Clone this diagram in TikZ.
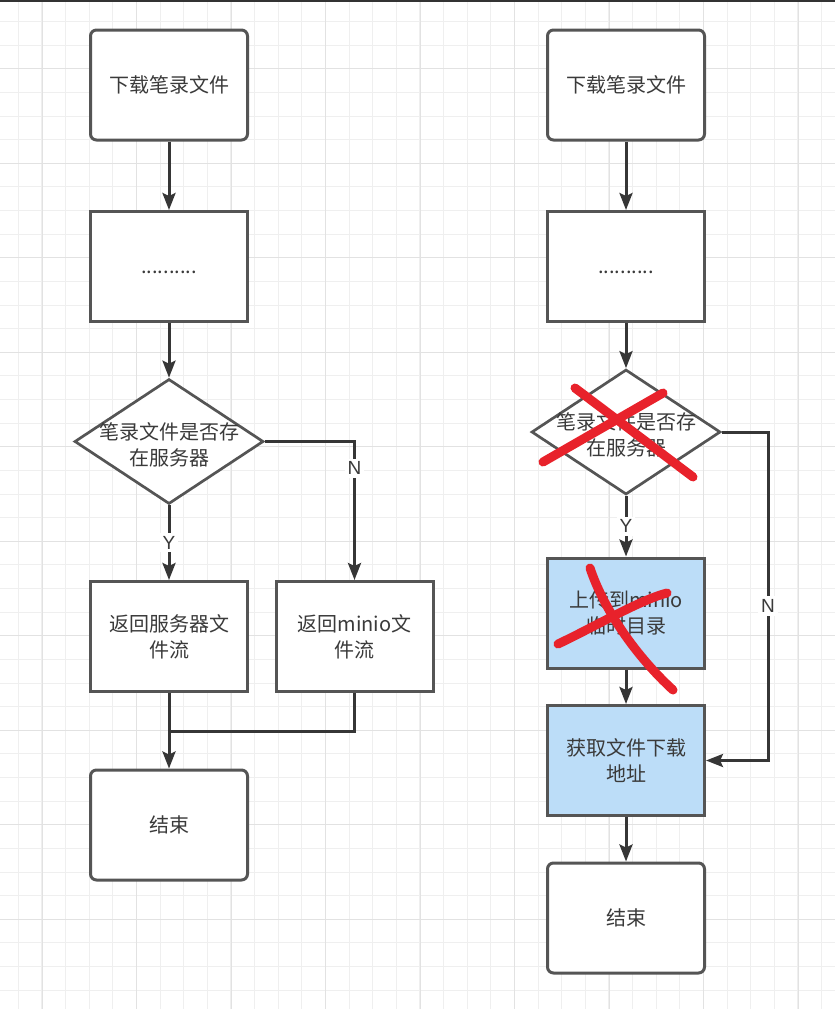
\documentclass[tikz,border=0pt]{standalone}
\usepackage{fontspec}
\setmainfont{Liberation Sans}
\newfontfamily\cjk{Noto Sans CJK SC}
\usetikzlibrary{arrows.meta,shapes.geometric}

\definecolor{gridminor}{HTML}{EFEFEF}
\definecolor{gridmajor}{HTML}{E2E2E2}
\definecolor{edge}{HTML}{555555}
\definecolor{wire}{HTML}{363636}
\definecolor{ink}{HTML}{3A3A3A}
\definecolor{paleblue}{HTML}{BCDDF8}
\definecolor{strike}{HTML}{E8222B}
\definecolor{topline}{HTML}{333333}

\tikzset{
  box/.style={draw=edge, line width=3pt, fill=white, minimum width=157pt,
    minimum height=110pt, inner sep=0pt, align=center,
    font=\cjk\fontsize{20}{26}\selectfont, text=ink},
  startbox/.style={box, rounded corners=6pt},
  bluebox/.style={box, fill=paleblue},
  decision/.style={diamond, draw=edge, line width=2.7pt, fill=white,
    minimum width=189pt, minimum height=125pt, inner sep=0pt},
  dtext/.style={font=\cjk\fontsize{20}{26}\selectfont, text=ink,
    align=center, inner sep=0pt, yshift=-3pt},
  conn/.style={draw=wire, line width=3pt,
    -{Stealth[length=17pt,width=13pt,inset=3pt]}},
  plain/.style={draw=wire, line width=3pt},
  yn/.style={fill=white, inner sep=3pt, font=\fontsize{19}{22}\selectfont, text=ink},
  cross/.style={draw=strike, line width=9pt, line cap=round},
  minorline/.style={draw=gridminor, line width=1pt},
  majorline/.style={draw=gridmajor, line width=1.2pt}
}

\begin{document}
\begin{tikzpicture}[x=1pt, y=-1pt]
  \useasboundingbox (0,0) rectangle (835,1009);
  \fill[white] (0,0) rectangle (835,1009);

  % background grid
  \foreach \i in {0,...,34} {
    \pgfmathsetmacro\gx{18.3+23.625*\i}
    \draw[minorline] (\gx,0) -- (\gx,1009);
  }
  \foreach \i in {0,...,41} {
    \pgfmathsetmacro\gy{21.55+23.625*\i}
    \draw[minorline] (0,\gy) -- (835,\gy);
  }
  \foreach \i in {0,...,8} {
    \pgfmathsetmacro\gx{42.3+94.5*\i}
    \draw[majorline] (\gx,0) -- (\gx,1009);
  }
  \foreach \i in {0,...,9} {
    \pgfmathsetmacro\gy{68.8+94.5*\i}
    \draw[majorline] (0,\gy) -- (835,\gy);
  }
  \fill[topline] (0,0) rectangle (835,1.8);

  % left flow
  \node[startbox] (L1) at (169,85) {下载笔录文件};
  \node[box] (L2) at (169,266.5) {\vphantom{下}..........};
  \node[decision, label={[dtext]center:{笔录文件是否存\\在服务器}}] (Ld) at (169,441.5) {};
  \node[box] (L3) at (169,636.5) {返回服务器文\\件流};
  \node[box] (L4) at (354.5,636.5) {返回minio文\\件流};
  \node[startbox] (L5) at (169,825) {结束};
  \coordinate (LJ) at (169,731);

  \draw[conn] (L1.south) -- (L2.north);
  \draw[conn] (L2.south) -- (Ld.north);
  \draw[conn] (Ld.south) -- node[yn] (LY) {Y} (L3.north);
  \draw[conn] (Ld.east) -| node[yn, pos=0.596] (LN) {N} (L4.north);
  \draw[conn] (L3.south) -- (L5.north);
  \draw[plain] (L4.south) |- (LJ);

  % right flow
  \node[startbox] (R1) at (626,85) {下载笔录文件};
  \node[box] (R2) at (626,266.5) {\vphantom{下}..........};
  \node[decision, label={[dtext]center:{笔录文件是否存\\在服务器}}] (Rd) at (626,432) {};
  \node[bluebox] (R3) at (626,613) {上传到minio\\临时目录};
  \node[bluebox] (R4) at (626,760.5) {获取文件下载\\地址};
  \node[startbox] (R5) at (626,918) {结束};
  \coordinate (RN) at (768,606);

  \draw[conn] (R1.south) -- (R2.north);
  \draw[conn] (R2.south) -- (Rd.north);
  \draw[conn] (Rd.south) -- node[yn] (RY) {Y} (R3.north);
  \draw[conn] (R3.south) -- (R4.north);
  \draw[conn] (R4.south) -- (R5.north);
  \draw[conn] (Rd.east) -| (RN) |- (R4.east);
  \node[yn] (RNl) at (RN) {N};

  % struck-out steps
  \draw[cross] (575,388) -- (693,477);
  \draw[cross] (543,462) -- (663,393);
  \draw[cross] (590,568) .. controls (604,610) and (636,656) .. (673,690);
  \draw[cross] (558,644) .. controls (596,626) and (640,600) .. (667,593);
\end{tikzpicture}
\end{document}
